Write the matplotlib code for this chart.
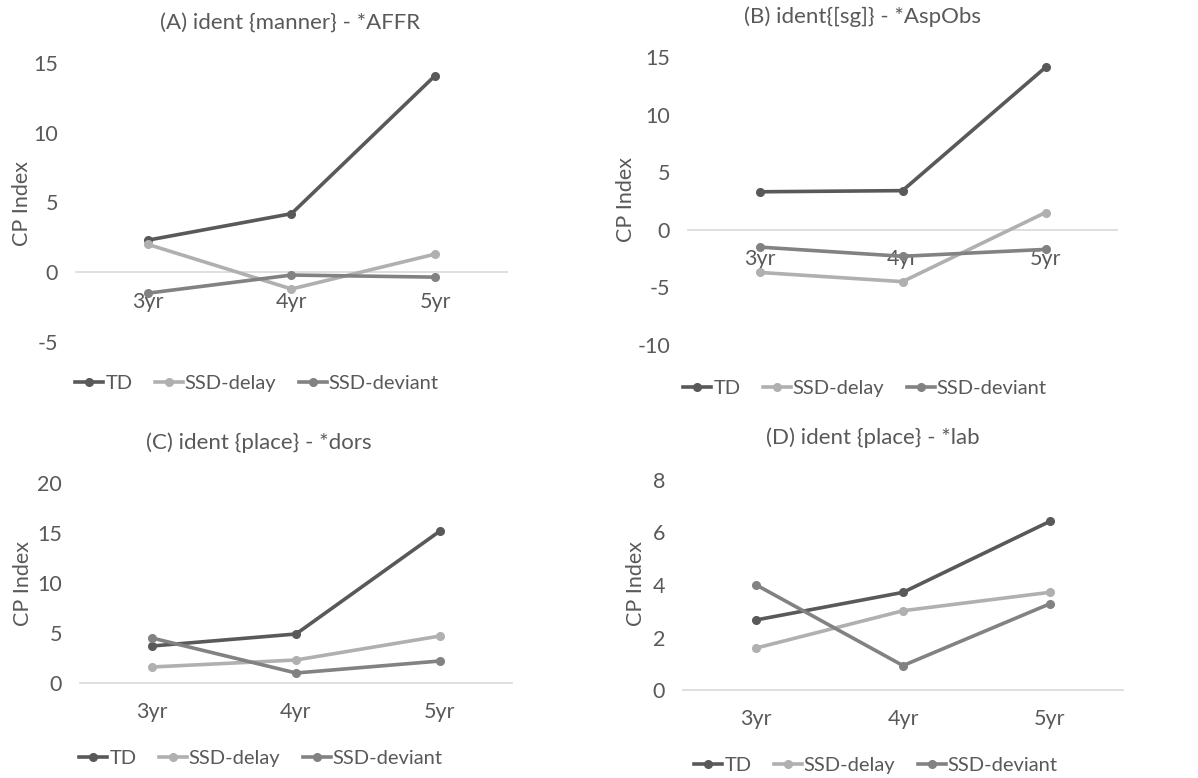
import numpy as np
import matplotlib
matplotlib.use("Agg")
import matplotlib.pyplot as plt
from matplotlib.lines import Line2D

plt.rcParams['font.family'] = ['Lato', 'DejaVu Sans']

ages = ['3yr', '4yr', '5yr']
groups = ['TD', 'SSD-delay', 'SSD-deviant']

# (A) ident {manner} - *AFFR
a_td = [2.3, 4.2, 14.1]
a_delay = [2.0, -1.2, 1.3]
a_dev = [-1.5, -0.2, -0.35]

# (B) ident{[sg]} - *AspObs
b_td = [3.3, 3.4, 14.1]
b_delay = [-3.7, -4.5, 1.5]
b_dev = [-1.5, -2.3, -1.7]

# (C) ident {place} - *dors
c_td = [3.7, 4.9, 15.2]
c_delay = [1.6, 2.3, 4.7]
c_dev = [4.5, 1.0, 2.2]

# (D) ident {place} - *lab
d_td = [2.67, 3.72, 6.42]
d_delay = [1.6, 3.02, 3.72]
d_dev = [4.0, 0.93, 3.28]

titles = ['(A) ident {manner} - *AFFR', '(B) ident{[sg]} - *AspObs',
          '(C) ident {place} - *dors', '(D) ident {place} - *lab']

colors = ['#595959', '#b0b0b0', '#828282']
txt = '#595959'
W, H = 1198, 778

fig = plt.figure(figsize=(W / 100, H / 100), dpi=100)


def panel(rect, series, ylim, yticks, title, title_xy, ylab_xy, leg_xy):
    l, t, r, b = rect
    ax = fig.add_axes([l / W, 1 - b / H, (r - l) / W, (b - t) / H])
    x = np.arange(len(ages))
    for vals, c in zip(series, colors):
        ax.plot(x, vals, color=c, lw=2.6, marker='o', ms=5.5, solid_capstyle='round')
    ax.set_xlim(-0.5, 2.5)
    ax.set_ylim(*ylim)
    ax.set_yticks(yticks)
    ax.set_yticklabels([str(v) for v in yticks])
    ax.set_xticks(x)
    ax.set_xticklabels(ages)
    for s in ['top', 'right', 'left']:
        ax.spines[s].set_visible(False)
    ax.spines['bottom'].set_position(('data', 0))
    ax.spines['bottom'].set_color('#d9d9d9')
    ax.spines['bottom'].set_linewidth(1.2)
    ax.spines['bottom'].set_zorder(0)
    ax.tick_params(axis='both', length=0, labelsize=15.5, colors=txt)
    ax.tick_params(axis='y', pad=13)
    ax.tick_params(axis='x', pad=14)
    ax.patch.set_alpha(0)
    fig.text(title_xy[0] / W, 1 - title_xy[1] / H, title, ha='center', va='center',
             fontsize=16, color=txt)
    fig.text(ylab_xy[0] / W, 1 - ylab_xy[1] / H, 'CP Index', ha='center', va='center',
             rotation=90, fontsize=15.5, color=txt)
    handles = [Line2D([], [], color=c, lw=2.6, marker='o', ms=5.5) for c in colors]
    leg = ax.legend(handles, groups, loc='center', ncol=3, frameon=False,
                    bbox_to_anchor=(leg_xy[0] / W, 1 - leg_xy[1] / H),
                    bbox_transform=fig.transFigure, fontsize=14.5,
                    handlelength=1.4, handletextpad=0.1, columnspacing=1.1,
                    markerfirst=True)
    for tx in leg.get_texts():
        tx.set_color(txt)
    return ax


panel((76, 63, 507, 342), [a_td, a_delay, a_dev], (-5, 15), [-5, 0, 5, 10, 15],
      titles[0], (290, 23), (22, 203), (257, 383))
panel((688, 57, 1117, 345), [b_td, b_delay, b_dev], (-10, 15), [-10, -5, 0, 5, 10, 15],
      titles[1], (863, 17), (626, 200), (865, 388))
panel((80, 483, 512, 683), [c_td, c_delay, c_dev], (0, 20), [0, 5, 10, 15, 20],
      titles[2], (259, 443), (23, 583), (261, 758))
panel((683, 480, 1123, 690), [d_td, d_delay, d_dev], (0, 8), [0, 2, 4, 6, 8],
      titles[3], (873, 438), (636, 584), (876, 765))

fig.savefig('out.png', dpi=100, facecolor='white')
